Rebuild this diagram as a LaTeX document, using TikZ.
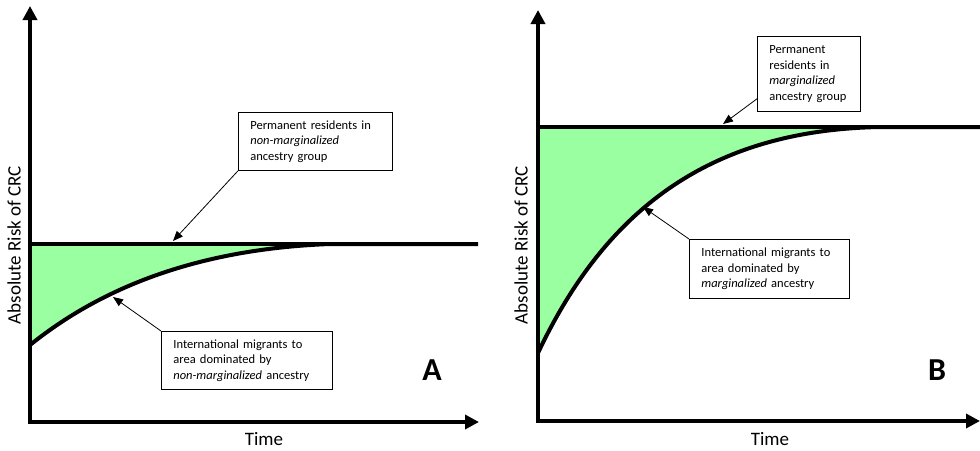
\documentclass[tikz,border=0pt]{standalone}
\usepackage{fontspec}
\setmainfont{Carlito}
\usetikzlibrary{arrows.meta}
\definecolor{riskgreen}{RGB}{153,255,160}
\tikzset{
  axis/.style={line width=4pt, line join=miter, {Triangle[length=14pt,width=14pt]}-{Triangle[length=14pt,width=14pt]}},
  riskline/.style={line width=4pt},
  callout/.style={draw, line width=0.8pt, anchor=north west, align=left, inner xsep=12pt, inner ysep=0pt, font=\fontsize{12.5}{15.5}\selectfont},
  pointer/.style={line width=0.8pt, -{Triangle[length=10pt,width=8pt]}},
  axislabel/.style={font=\fontsize{19}{21}\selectfont},
  panelletter/.style={font=\fontsize{32}{34}\selectfont\bfseries}
}
\begin{document}
\begin{tikzpicture}[x=1pt,y=-1pt]
\useasboundingbox (0,0) rectangle (980,450);
% ---------- Panel A ----------
\fill[riskgreen] (32,244) -- (32,343) .. controls (80,305) and (170,250) .. (330,244) -- cycle;
\draw[riskline] (32,244) -- (478,244);
\draw[riskline] (30,345) .. controls (80,305) and (170,250) .. (330,244) -- (478,244);
\coordinate (aytip) at (30,6);
\coordinate (aorig) at (30,422);
\coordinate (axtip) at (479,422);
\draw[axis] (aytip) -- (aorig) -- (axtip);
\node[axislabel, rotate=90] (aylab) at (14,245) {Absolute Risk of CRC};
\node[axislabel] (axlab) at (264,439) {Time};
\node[panelletter] (aletter) at (432,370) {A};
\node[callout, text width=130pt, minimum height=58pt] (a1) at (238,112) {Permanent residents in\\\textit{non-marginalized}\\ancestry group};
\node[callout, text width=147pt, minimum height=58pt] (a2) at (161,331) {International migrants to\\area dominated by\\\textit{non-marginalized} ancestry};
\coordinate (a1tip) at (173,241);
\coordinate (a2tip) at (113,297);
\draw[pointer] (a1.south west) -- (a1tip);
\draw[pointer] (a2.north west) -- (a2tip);
% ---------- Panel B ----------
\fill[riskgreen] (540,127) -- (540,350) .. controls (610,200) and (720,130) .. (880,127) -- cycle;
\draw[riskline] (540,127) -- (980,127);
\draw[riskline] (538,353) .. controls (610,200) and (720,130) .. (880,127) -- (980,127);
\coordinate (bytip) at (538,10);
\coordinate (borig) at (538,421);
\coordinate (bxtip) at (980,421);
\draw[axis] (bytip) -- (borig) -- (bxtip);
\node[axislabel, rotate=90] (bylab) at (521,245) {Absolute Risk of CRC};
\node[axislabel] (bxlab) at (770,439) {Time};
\node[panelletter] (bletter) at (937,370) {B};
\node[callout, text width=79pt, minimum height=75pt] (b1) at (757,36) {Permanent\\residents in\\\textit{marginalized}\\ancestry group};
\node[callout, text width=136pt, minimum height=59pt] (b2) at (689,239) {International migrants to\\area dominated by\\\textit{marginalized} ancestry};
\coordinate (b1tip) at (723,124);
\coordinate (b2tip) at (643,207);
\draw[pointer] ([yshift=13pt]b1.south west) -- (b1tip);
\draw[pointer] (b2.north west) -- (b2tip);
\end{tikzpicture}
\end{document}
